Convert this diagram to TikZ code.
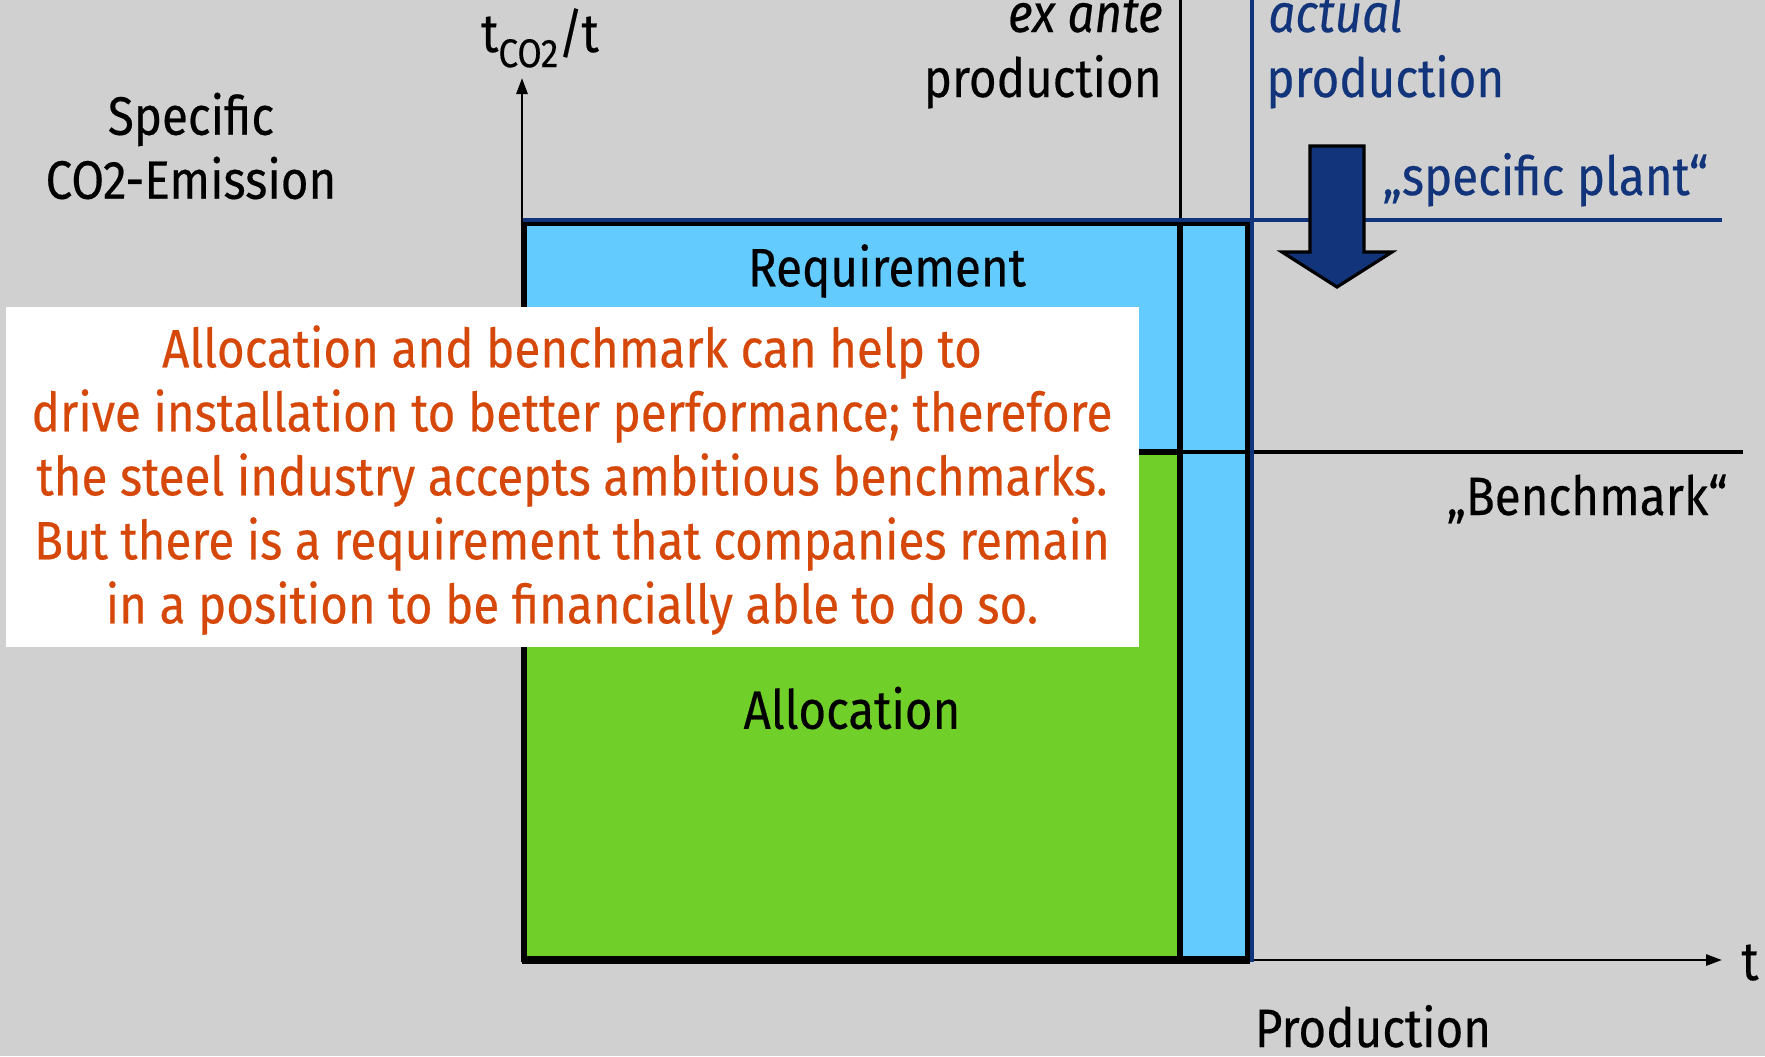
\documentclass[tikz,border=0pt]{standalone}
\usepackage{fontspec}
\setmainfont[FakeStretch=0.88,FakeBold=0.35]{Fira Sans}
\usetikzlibrary{arrows.meta}
\definecolor{bg}{RGB}{208,208,208}
\definecolor{reqblue}{RGB}{100,203,255}
\definecolor{allocgreen}{RGB}{112,207,41}
\definecolor{darkblue}{RGB}{18,52,122}
\definecolor{orangetxt}{RGB}{214,72,10}
\tikzset{
  lbl/.style={inner sep=0pt, font=\fontsize{27pt}{32pt}\selectfont},
  axis/.style={line width=1.4pt, -{Stealth[length=8pt,width=5.5pt,inset=0pt]}},
  thickline/.style={line width=2.6pt},
  bluline/.style={line width=2pt, draw=darkblue},
}
\begin{document}
\begin{tikzpicture}[x=0.5pt,y=-0.5pt]
\useasboundingbox (0,0) rectangle (1765,1056);
\fill[bg] (0,0) rectangle (1765,1056);

% coordinates
\coordinate (origin) at (522,960);
\coordinate (ytip) at (522,78);
\coordinate (xtip) at (1722,960);

% axes
\draw[axis] (origin) -- (ytip);
\draw[axis] (origin) -- (xtip);

% requirement box and allocation
\fill[reqblue] (524,222) rectangle (1249,960);
\fill[allocgreen] (524,452) rectangle (1180,960);

% benchmark line
\coordinate (bmL) at (522,452);
\coordinate (bmR) at (1743,452);
\draw[line width=1.7pt] (bmL) -- (bmR);
\draw[thickline] (bmL) -- (1180,452);

% ex ante vertical line
\coordinate (exTop) at (1180,0);
\coordinate (exBot) at (1180,960);
\draw[line width=1.5pt] (exTop) -- (exBot);
\draw[thickline] (1180,222) -- (exBot);

% box outline
\draw[line width=2.6pt] (524,959) -- (524,223) -- (1248,223) -- (1248,959) -- cycle;
\draw[line width=3pt] (522,961) -- (1250,961);

% actual production vertical line
\coordinate (acTop) at (1252,0);
\coordinate (acBot) at (1252,962);
\draw[bluline] (acTop) -- (acBot);

% specific plant line
\coordinate (spL) at (523,220);
\coordinate (spR) at (1722,220);
\draw[bluline] (spL) -- (spR);

% arrow down
\draw[fill=darkblue, line width=1.6pt, line join=miter]
  (1310,146) -- (1364,146) -- (1364,252) -- (1392,252) -- (1337,287)
  -- (1282,252) -- (1310,252) -- cycle;

% labels
\node[lbl, align=center] (specific) at (191,146) {Specific\\CO2-Emission};
\node[lbl] (ylabel) at (540,38) {t\raisebox{-0.28em}{\fontsize{20pt}{20pt}\selectfont CO2}/t};
\node[lbl, anchor=base east] (exante) at (1163,32) {\itshape ex ante};
\node[lbl, anchor=base east] (exprod) at (1162,97) {production};
\node[lbl, anchor=base west, text=darkblue] (actual) at (1268,32) {\itshape actual};
\node[lbl, anchor=base west, text=darkblue] (acprod) at (1266,97) {production};
\node[lbl, anchor=base west, text=darkblue] (splant) at (1382,195) {„specific plant“};
\node[lbl, anchor=base east] (bench) at (1728,515) {„Benchmark“};
\node[lbl] (req) at (887,271) {Requirement};
\node[lbl] (alloc) at (852,708) {Allocation};
\node[lbl, anchor=base] (tlab) at (1750,980) {t};
\node[lbl, anchor=base] (prodlab) at (1373,1047) {Production};

% white box with orange text
\fill[white] (6,307) rectangle (1139,647);
\node[lbl, align=center, text=orangetxt] (msg) at (572,480)
 {Allocation and benchmark can help to\\
  drive installation to better performance; therefore\\
  the steel industry accepts ambitious benchmarks.\\
  But there is a requirement that companies remain\\
  in a position to be financially able to do so.};
\end{tikzpicture}
\end{document}
